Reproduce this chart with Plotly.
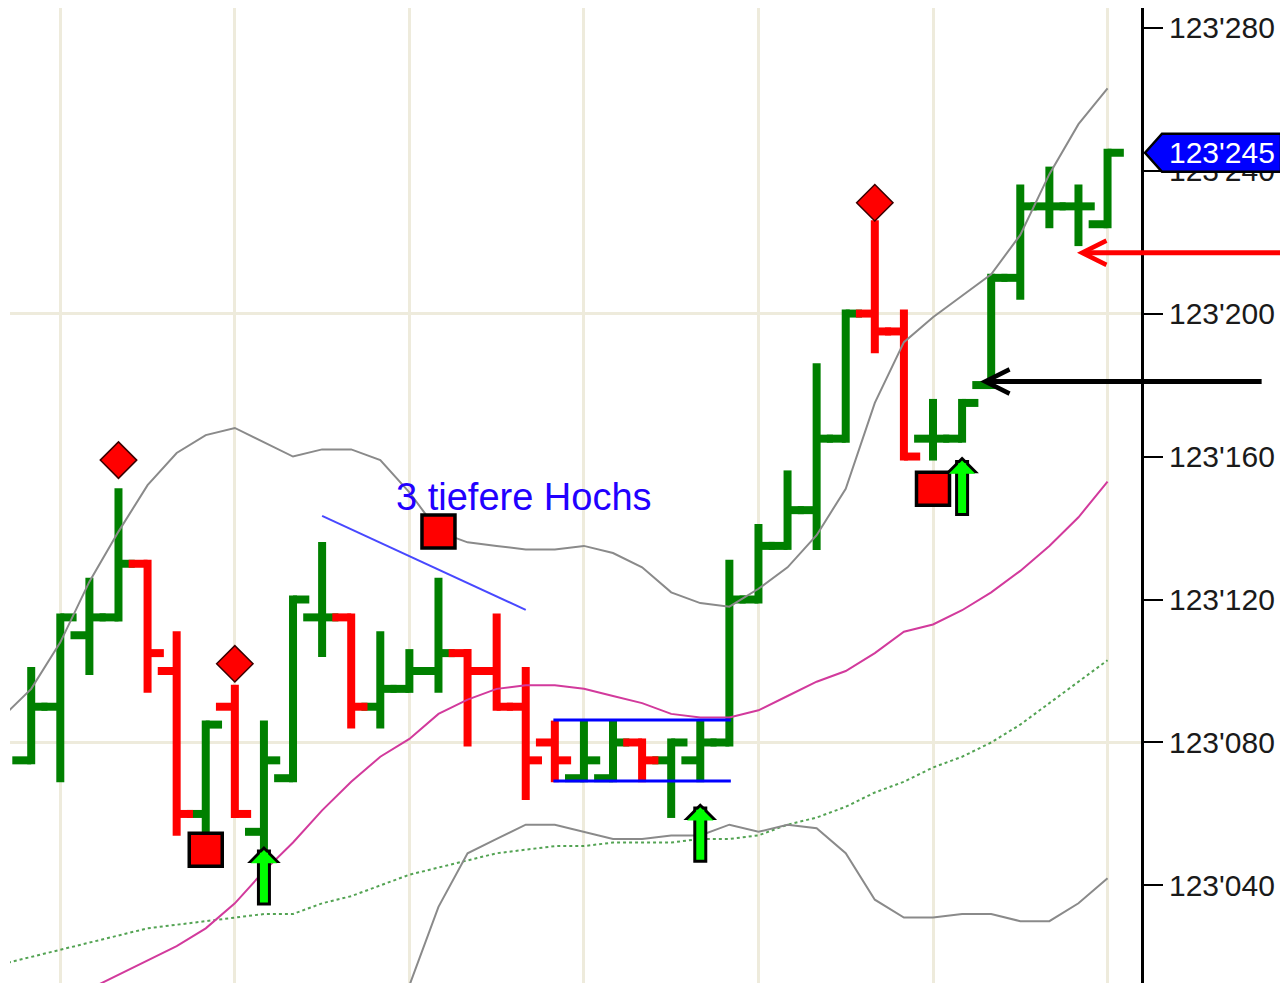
import plotly.graph_objects as go

# ---------------- data ----------------
bar_index = list(range(38))
opens  = [123075, 123090, 123110, 123115, 123130, 123100, 123060, 123090, 123055, 123070,
          123115, 123115, 123090, 123095, 123100, 123105, 123100, 123090, 123080, 123070,
          123070, 123080, 123075, 123075, 123080, 123120, 123135, 123145, 123165, 123200,
          123195, 123165, 123165, 123180, 123210, 123230, 123230, 123225]
highs  = [123100, 123115, 123125, 123150, 123130, 123110, 123085, 123095, 123085, 123120,
          123135, 123115, 123110, 123105, 123125, 123105, 123115, 123100, 123085, 123085,
          123085, 123080, 123080, 123085, 123130, 123140, 123155, 123185, 123200, 123225,
          123200, 123175, 123175, 123210, 123235, 123240, 123235, 123245]
lows   = [123075, 123070, 123100, 123115, 123095, 123055, 123055, 123060, 123050, 123070,
          123105, 123085, 123085, 123095, 123095, 123080, 123090, 123065, 123070, 123070,
          123070, 123070, 123060, 123070, 123080, 123120, 123135, 123135, 123165, 123190,
          123160, 123160, 123165, 123180, 123205, 123225, 123220, 123225]
closes = [123090, 123115, 123115, 123130, 123105, 123060, 123085, 123060, 123075, 123120,
          123115, 123090, 123095, 123100, 123105, 123100, 123090, 123075, 123075, 123075,
          123080, 123075, 123080, 123080, 123120, 123135, 123145, 123165, 123200, 123195,
          123160, 123165, 123175, 123210, 123230, 123230, 123230, 123245]

band_x = list(range(-1, 38))
upper_band = [123087, 123095, 123108, 123125, 123139, 123152, 123161, 123166, 123168, 123164,
              123160, 123162, 123162, 123159, 123150, 123139, 123136, 123135, 123134, 123134,
              123135, 123133, 123129, 123122, 123119, 123118, 123123, 123129, 123138, 123151,
              123175, 123192, 123199, 123205, 123211, 123222, 123239, 123253, 123263]
slow_ma = [123018, 123020, 123022, 123024, 123026, 123028, 123029, 123030, 123031, 123032,
           123032, 123035, 123037, 123040, 123043, 123045, 123047, 123049, 123050, 123051,
           123051, 123052, 123052, 123052, 123053, 123053, 123054, 123057, 123059, 123062,
           123066, 123069, 123073, 123076, 123080, 123085, 123091, 123097, 123103]
middle_x = list(range(1, 38))
middle_line = [123007, 123011, 123015, 123019, 123023, 123028, 123035, 123044, 123052, 123061,
               123069, 123076, 123081, 123088, 123092, 123095, 123096, 123096, 123095, 123093,
               123091, 123088, 123087, 123087, 123089, 123093, 123097, 123100, 123105, 123111,
               123113, 123117, 123122, 123128, 123135, 123143, 123153]
lower_x = list(range(12, 38))
lower_band = [122991, 123012, 123034, 123049, 123053, 123057, 123057, 123055, 123053, 123053,
              123054, 123054, 123057, 123055, 123057, 123056, 123049, 123036, 123031, 123031,
              123032, 123032, 123030, 123030, 123035, 123042]

diamond_bars = [3, 7, 29]
diamond_vals = [123159, 123102, 123231]
square_bars = [6, 14, 31]
square_vals = [123050, 123139, 123151]
buy_arrow_bars = [8, 23, 32]
buy_arrow_vals = [123051, 123063, 123160]

trend_x = [10, 17]
trend_y = [123143.4, 123117.1]
range_x = [17.95, 24.05]
range_top = [123086.3, 123086.3]
range_bottom = [123069.2, 123069.2]

y_ticks = [123040, 123080, 123120, 123160, 123200, 123240, 123280]
y_tick_labels = ["123'040", "123'080", "123'120", "123'160", "123'200", "123'240", "123'280"]
grid_bars = [1, 7, 13, 19, 25, 31, 37]
grid_levels = [123080, 123200]
last_price = 123245
last_price_label = "123'245"
red_arrow_bar, red_arrow_price = 35.95, 123217
black_arrow_bar, black_arrow_price = 32.62, 123181
note_text = "3 tiefere Hochs"
note_bar, note_price = 16.94, 123148.7

# ---------------- layout constants ----------------
PAGE_OFFSET = 8                      # default body margin of the html page
W, H = 1288 - PAGE_OFFSET, 983 - PAGE_OFFSET
PLOT_LEFT_PAGE, PLOT_RIGHT_PAGE, PLOT_TOP_PAGE = 10, 1141, 8
ML = PLOT_LEFT_PAGE - PAGE_OFFSET
MR = 1288 - PLOT_RIGHT_PAGE
MT = PLOT_TOP_PAGE - PAGE_OFFSET
MB = 0
X_RANGE = [-0.729, 38.15]
Y_RANGE = [123012.7, 123285.5]
plot_w = W - ML - MR
plot_h = H - MT - MB
px_per_unit = plot_h / (Y_RANGE[1] - Y_RANGE[0])
BAR_W = 8
cap = (BAR_W / 2) / px_per_unit
LEFT_TICK, RIGHT_TICK = 0.65, 0.56

GREEN = "#008000"
RED = "#ff0000"


def page_px_to_paper_x(px):
    return (px - PLOT_LEFT_PAGE) / plot_w


def val_to_paper_y(v):
    return (v - Y_RANGE[0]) / (Y_RANGE[1] - Y_RANGE[0])


def bar_segments(idx):
    xs, ys = [], []
    for i in idx:
        xs += [i, i, None, i - LEFT_TICK, i, None, i, i + RIGHT_TICK, None]
        ys += [lows[i] - cap, highs[i] + cap, None, opens[i], opens[i], None,
               closes[i], closes[i], None]
    return xs, ys


up_idx = [i for i in bar_index if closes[i] >= opens[i]]
dn_idx = [i for i in bar_index if closes[i] < opens[i]]

fig = go.Figure()

gx, gy = bar_segments(up_idx)
rx, ry = bar_segments(dn_idx)
fig.add_trace(go.Scatter(x=gx, y=gy, mode="lines", line=dict(color=GREEN, width=BAR_W),
                         connectgaps=False, hoverinfo="skip"))
fig.add_trace(go.Scatter(x=rx, y=ry, mode="lines", line=dict(color=RED, width=BAR_W),
                         connectgaps=False, hoverinfo="skip"))

# indicator lines
fig.add_trace(go.Scatter(x=band_x, y=slow_ma, mode="lines",
                         line=dict(color="rgba(40,140,40,0.8)", width=2, dash="dot")))
fig.add_trace(go.Scatter(x=middle_x, y=middle_line, mode="lines",
                         line=dict(color="#d23a9c", width=2)))
fig.add_trace(go.Scatter(x=band_x, y=upper_band, mode="lines",
                         line=dict(color="#8a8a8a", width=2)))
fig.add_trace(go.Scatter(x=lower_x, y=lower_band, mode="lines",
                         line=dict(color="#8a8a8a", width=2)))

# drawn lines
fig.add_trace(go.Scatter(x=trend_x, y=trend_y, mode="lines",
                         line=dict(color="rgba(40,40,255,0.85)", width=2)))
fig.add_trace(go.Scatter(x=range_x, y=range_top, mode="lines",
                         line=dict(color="#0000ff", width=3)))
fig.add_trace(go.Scatter(x=range_x, y=range_bottom, mode="lines",
                         line=dict(color="#0000ff", width=3)))

# markers
fig.add_trace(go.Scatter(x=diamond_bars, y=diamond_vals, mode="markers",
                         marker=dict(symbol="diamond", size=28, color="#ff0000",
                                     line=dict(color="#3a0000", width=1.5))))
fig.add_trace(go.Scatter(x=square_bars, y=square_vals, mode="markers",
                         marker=dict(symbol="square", size=33, color="#ff0000",
                                     line=dict(color="#000000", width=3.5))))

annotations = []
# buy arrows (outline + fill)
for b, v in zip(buy_arrow_bars, buy_arrow_vals):
    annotations.append(dict(x=b, y=v, xref="x", yref="y", text="", showarrow=True,
                            ax=0, ay=60, arrowhead=1, arrowwidth=14, arrowsize=0.4,
                            arrowcolor="#000000", font=dict(size=1), borderpad=0))
    annotations.append(dict(x=b, y=v, xref="x", yref="y", text="", showarrow=True,
                            ax=0, ay=57, arrowhead=1, arrowwidth=8, arrowsize=0.55,
                            standoff=4, arrowcolor="#00ff00", font=dict(size=1), borderpad=0))

# horizontal pointer arrows
annotations.append(dict(x=red_arrow_bar, y=red_arrow_price, xref="x", yref="y", text="",
                        showarrow=True, ax=215, ay=0, arrowhead=5, arrowwidth=5,
                        arrowsize=0.95, arrowcolor="#ff0000", font=dict(size=1), borderpad=0))
annotations.append(dict(x=black_arrow_bar, y=black_arrow_price, xref="x", yref="y", text="",
                        showarrow=True, ax=282, ay=0, arrowhead=5, arrowwidth=5,
                        arrowsize=0.95, arrowcolor="#000000", font=dict(size=1), borderpad=0))

# note text
annotations.append(dict(x=note_bar, y=note_price, xref="x", yref="y", text=note_text,
                        showarrow=False, xanchor="center", yanchor="middle",
                        font=dict(family="Liberation Sans, Arial", size=38, color="#2200ff")))

# price label text
annotations.append(dict(x=page_px_to_paper_x(1222), y=val_to_paper_y(last_price), xref="paper",
                        yref="paper", text=last_price_label, showarrow=False,
                        xanchor="center", yanchor="middle",
                        font=dict(family="Liberation Sans, Arial", size=30, color="#ffffff")))

# shapes: gridlines + price box
shapes = []
for lvl in grid_levels:
    shapes.append(dict(type="line", xref="paper", yref="y", x0=0, x1=1, y0=lvl, y1=lvl,
                       line=dict(color="#eeebdc", width=3), layer="below"))

half = 19 / px_per_unit
yc = val_to_paper_y(last_price)
yt = val_to_paper_y(last_price + half)
yb = val_to_paper_y(last_price - half)
x_tip, x_shoulder, x_right = (page_px_to_paper_x(1145), page_px_to_paper_x(1162),
                              page_px_to_paper_x(1281))
shapes.append(dict(type="path", xref="paper", yref="paper",
                   path=f"M {x_tip},{yc} L {x_shoulder},{yt} L {x_right},{yt} L {x_right},{yb} L {x_shoulder},{yb} Z",
                   fillcolor="#0000ff", line=dict(color="#000000", width=2.5), layer="above"))

fig.update_layout(
    width=W, height=H,
    margin=dict(l=ML, r=MR, t=MT, b=MB, pad=0),
    paper_bgcolor="#ffffff", plot_bgcolor="#ffffff",
    showlegend=False,
    annotations=annotations,
    shapes=shapes,
    xaxis=dict(range=X_RANGE, tickmode="array", tickvals=grid_bars, showticklabels=False,
               ticks="", showgrid=True, gridcolor="#eeebdc", gridwidth=3,
               zeroline=False, showline=False, fixedrange=True),
    yaxis=dict(range=Y_RANGE, side="right", tickmode="array", tickvals=y_ticks,
               ticktext=y_tick_labels, ticks="outside", ticklen=19, tickwidth=2,
               tickcolor="#000000", showline=True, linecolor="#000000", linewidth=3,
               showgrid=False, zeroline=False,
               tickfont=dict(family="Liberation Sans, Arial", size=30, color="#1a1a1a")),
)

fig.write_html("out.html")
